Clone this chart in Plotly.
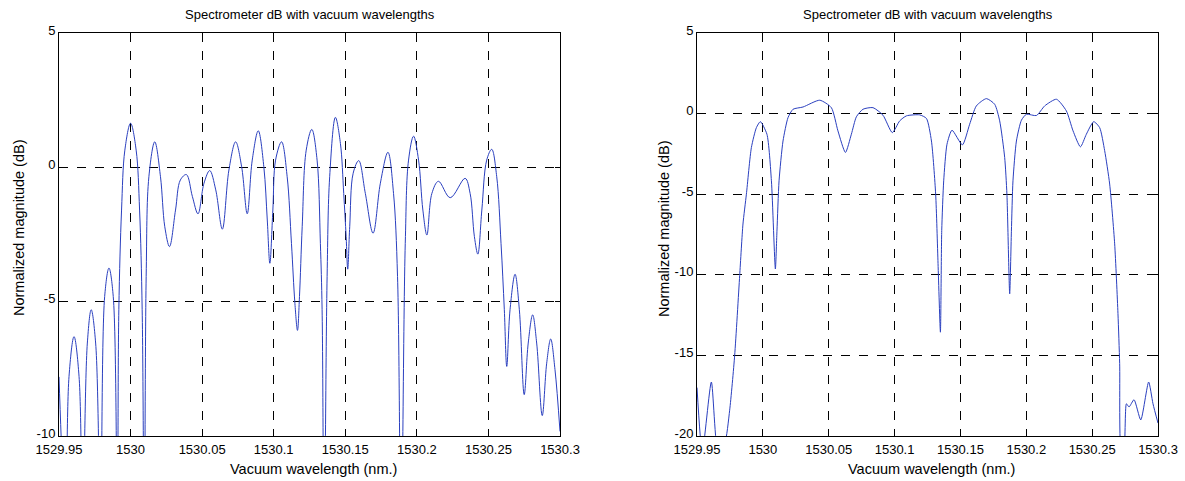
import plotly.graph_objects as go

# ---- Left panel data (wavelength nm, dB) ----
left_wl = [1529.9500, 1529.9545, 1529.9570, 1529.9605, 1529.9640, 1529.9665, 1529.9698, 1529.9725,
           1529.9756, 1529.9790, 1529.9819, 1529.9849, 1529.9879, 1529.9907, 1529.9918, 1529.9937,
           1529.9960, 1530.0000, 1530.0039, 1530.0063, 1530.0081, 1530.0096, 1530.0109, 1530.0128,
           1530.0169, 1530.0209, 1530.0239, 1530.0272, 1530.0314, 1530.0348, 1530.0390, 1530.0432,
           1530.0471, 1530.0513, 1530.0553, 1530.0595, 1530.0641, 1530.0687, 1530.0734, 1530.0776,
           1530.0815, 1530.0850, 1530.0892, 1530.0931, 1530.0955, 1530.0973, 1530.0994, 1530.1013,
           1530.1055, 1530.1094, 1530.1124, 1530.1148, 1530.1166, 1530.1180, 1530.1199, 1530.1227,
           1530.1266, 1530.1303, 1530.1326, 1530.1338, 1530.1352, 1530.1373, 1530.1391, 1530.1431,
           1530.1466, 1530.1489, 1530.1506, 1530.1517, 1530.1531, 1530.1555, 1530.1594, 1530.1640,
           1530.1694, 1530.1745, 1530.1798, 1530.1837, 1530.1865, 1530.1890, 1530.1919, 1530.1942,
           1530.1977, 1530.2012, 1530.2042, 1530.2070, 1530.2105, 1530.2151, 1530.2233, 1530.2337,
           1530.2372, 1530.2402, 1530.2426, 1530.2454, 1530.2488, 1530.2523, 1530.2558, 1530.2588,
           1530.2611, 1530.2628, 1530.2651, 1530.2686, 1530.2716, 1530.2750, 1530.2778, 1530.2809,
           1530.2837, 1530.2876, 1530.2907, 1530.2935, 1530.2965, 1530.3000]
left_db = [-7.8, -13.0, -7.78, -6.3, -7.78, -13.0, -6.54, -5.30,
           -6.54, -13.0, -4.81, -3.75, -4.81, -13.0, -5.30, -1.59,
           0.64, 1.64, 0.64, -1.59, -5.30, -14.0, -4.06, -0.35,
           0.95, -0.35, -2.21, -2.95, -1.59, -0.47, -0.27, -1.09,
           -1.73, -0.59, -0.12, -0.84, -2.30, -0.10, 0.95, 0.02,
           -1.73, 0.27, 1.36, 0.02, -1.96, -3.57, -1.59, 0.27,
           0.95, -0.35, -2.83, -5.06, -6.07, -4.81, -2.21, 0.64,
           1.41, 0.27, -2.83, -5.30, -14.0, -4.06, -0.35, 1.86,
           0.89, -0.97, -2.58, -3.79, -2.21, -0.22, 0.25, -0.97,
           -2.45, -0.59, 0.56, -0.97, -4.06, -14.0, -2.83, 0.27,
           1.16, 0.27, -1.59, -2.52, -0.97, -0.52, -1.13, -0.41,
           -0.97, -2.58, -3.23, -1.59, 0.27, 0.67, -0.35, -2.83,
           -5.30, -7.41, -5.30, -3.98, -5.30, -8.46, -6.54, -5.49,
           -6.54, -9.24, -7.29, -6.39, -7.53, -9.83]

# ---- Right panel data (wavelength nm, dB) ----
right_wl = [1529.9500, 1529.9540, 1529.9609, 1529.9660, 1529.9710, 1529.9748, 1529.9786, 1529.9824,
            1529.9849, 1529.9875, 1529.9913, 1529.9951, 1529.9981, 1530.0031, 1530.0065, 1530.0095,
            1530.0107, 1530.0123, 1530.0153, 1530.0191, 1530.0229, 1530.0305, 1530.0432, 1530.0520,
            1530.0570, 1530.0627, 1530.0672, 1530.0710, 1530.0760, 1530.0836, 1530.0912, 1530.0983,
            1530.1039, 1530.1090, 1530.1191, 1530.1242, 1530.1280, 1530.1312, 1530.1330, 1530.1348,
            1530.1358, 1530.1373, 1530.1398, 1530.1436, 1530.1515, 1530.1570, 1530.1621, 1530.1697,
            1530.1760, 1530.1798, 1530.1836, 1530.1853, 1530.1874, 1530.1887, 1530.1899, 1530.1925,
            1530.1963, 1530.2001, 1530.2077, 1530.2140, 1530.2229, 1530.2304, 1530.2355, 1530.2411,
            1530.2456, 1530.2512, 1530.2557, 1530.2595, 1530.2633, 1530.2671, 1530.2696, 1530.2709,
            1530.2722, 1530.2739, 1530.2760, 1530.2780, 1530.2818, 1530.2869, 1530.2929, 1530.2962,
            1530.3000]
right_db = [-17.0, -21.0, -16.65, -21.0, -20.5, -18.4, -15.0, -10.05,
            -6.85, -5.0, -2.1, -0.87, -0.5, -1.28, -4.17, -9.64,
            -7.3, -4.17, -1.7, -0.25, 0.27, 0.41, 0.83, 0.37,
            -1.07, -2.41, -1.28, -0.20, 0.27, 0.37, -0.10, -1.18,
            -0.45, -0.14, -0.08, -0.30, -1.70, -5.0, -9.3, -13.56,
            -7.26, -4.17, -1.9, -1.03, -1.94, -0.66, 0.48, 0.93,
            0.58, -0.45, -2.72, -5.0, -11.18, -7.3, -4.17, -1.70,
            -0.41, -0.04, -0.12, 0.48, 0.89, 0.17, -1.07, -2.06,
            -1.28, -0.50, -0.87, -2.30, -4.37, -8.08, -12.4, -15.5,
            -21.0, -21.0, -18.0, -18.2, -17.75, -19.0, -16.65, -18.0,
            -19.2]

x_tickvals = [1529.95, 1530.0, 1530.05, 1530.1, 1530.15, 1530.2, 1530.25, 1530.3]
x_ticktext = ["1529.95", "1530", "1530.05", "1530.1", "1530.15", "1530.2", "1530.25", "1530.3"]
left_yticks = [5, 0, -5, -10]
right_yticks = [5, 0, -5, -10, -15, -20]

title_text = "Spectrometer dB with vacuum wavelengths"
x_title = "Vacuum wavelength (nm.)"
y_title = "Normalized magnitude (dB)"

W, H = 1185, 481
LINE = "#2a3fbf"
FONT = "Liberation Sans, Arial, sans-serif"
TICK_SIZE = 13
LABEL_SIZE = 14.5
TITLE_SIZE = 13

def px(x):
    return x / W

def py(y):
    return 1 - y / H

fig = go.Figure()
fig.add_trace(go.Scatter(x=left_wl, y=left_db, mode="lines", xaxis="x", yaxis="y",
                         line=dict(color=LINE, width=1, shape="spline", smoothing=1.0),
                         showlegend=False, hoverinfo="skip"))
fig.add_trace(go.Scatter(x=right_wl, y=right_db, mode="lines", xaxis="x2", yaxis="y2",
                         line=dict(color=LINE, width=1, shape="spline", smoothing=0.6),
                         showlegend=False, hoverinfo="skip"))

common_x = dict(range=[1529.95, 1530.3], tickvals=x_tickvals, ticktext=x_ticktext,
                showgrid=True, gridcolor="black", griddash="dash", gridwidth=1,
                showline=True, linecolor="black", linewidth=1, mirror="ticks",
                ticks="inside", ticklen=5, tickcolor="black", zeroline=False, automargin=False,
                ticklabelstandoff=1,
                tickfont=dict(family=FONT, size=TICK_SIZE, color="black"), fixedrange=True)
common_y = dict(showgrid=True, gridcolor="black", griddash="dash", gridwidth=1,
                showline=True, linecolor="black", linewidth=1, mirror="ticks",
                ticks="inside", ticklen=5, tickcolor="black", zeroline=False, automargin=False,
                ticklabelshift=-3,
                tickfont=dict(family=FONT, size=TICK_SIZE, color="black"), fixedrange=True)

ydom = [py(436), py(33)]
fig.update_layout(
    width=W, height=H,
    margin=dict(l=0, r=0, t=0, b=0, pad=0, autoexpand=False),
    paper_bgcolor="white", plot_bgcolor="white",
    xaxis=dict(domain=[px(59), px(560)], anchor="y", **common_x),
    yaxis=dict(domain=ydom, anchor="x", range=[-10, 5], tickvals=left_yticks,
               ticktext=[str(v) for v in left_yticks], **common_y),
    xaxis2=dict(domain=[px(697), px(1158)], anchor="y2", **common_x),
    yaxis2=dict(domain=ydom, anchor="x2", range=[-20, 5], tickvals=right_yticks,
                ticktext=[str(v) for v in right_yticks], **common_y),
    font=dict(family=FONT, size=12, color="black"),
)

annots = []
for (x0, x1, yl) in [(59, 560, 19), (697, 1158, 664)]:
    annots.append(dict(text=title_text, x=px((x0 + x1) / 2), y=py(14), xref="paper", yref="paper",
                       showarrow=False, xanchor="center", yanchor="middle",
                       font=dict(family=FONT, size=TITLE_SIZE, color="black")))
    annots.append(dict(text=x_title, x=px((x0 + x1) / 2 + 4), y=py(469), xref="paper", yref="paper",
                       showarrow=False, xanchor="center", yanchor="middle",
                       font=dict(family=FONT, size=LABEL_SIZE, color="black")))
    annots.append(dict(text=y_title, x=px(yl), y=py(228), xref="paper", yref="paper",
                       showarrow=False, xanchor="center", yanchor="middle", textangle=-90,
                       font=dict(family=FONT, size=LABEL_SIZE, color="black")))
fig.update_layout(annotations=annots)

fig.write_html("out.html")
